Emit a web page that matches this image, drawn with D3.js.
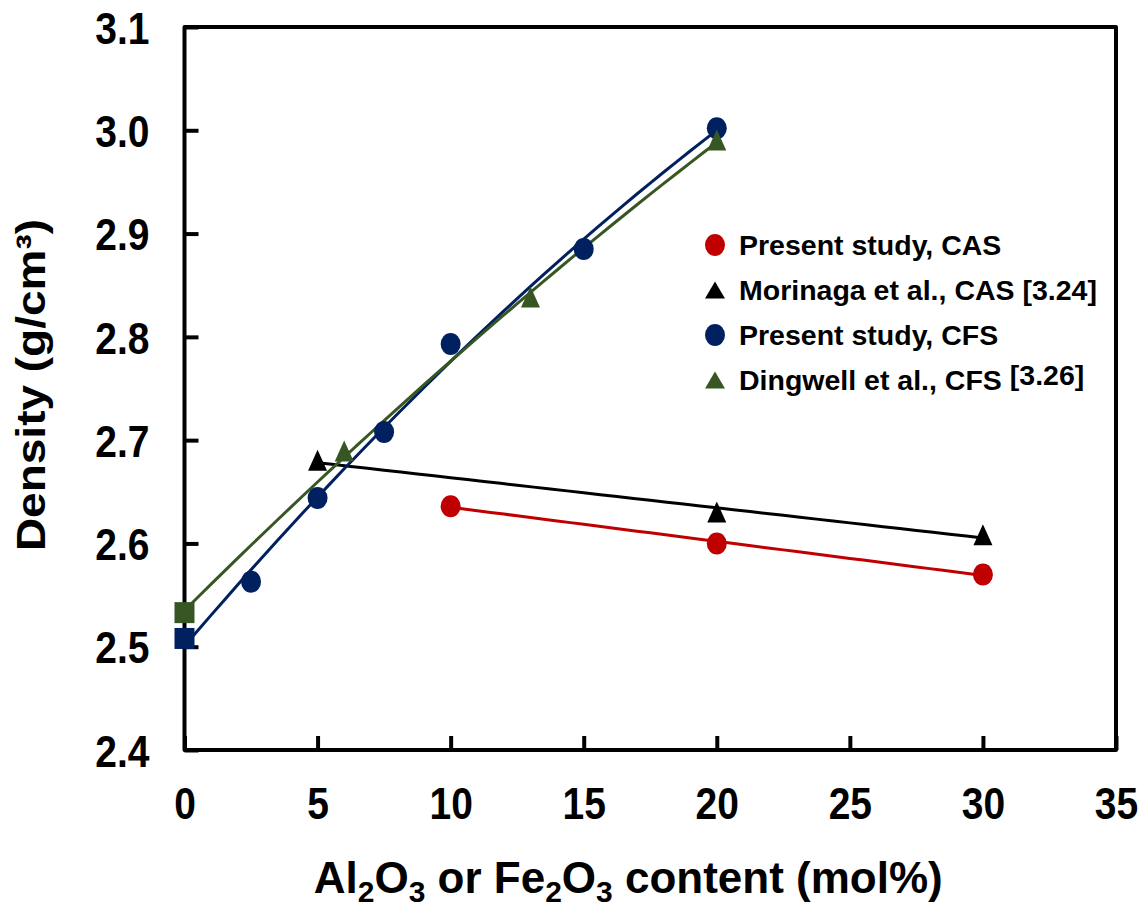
<!DOCTYPE html>
<html>
<head>
<meta charset="utf-8">
<script src="https://cdn.jsdelivr.net/npm/d3@7"></script>
<style>
  body { margin: 0; background: #fff; }
  text { font-family: "Liberation Sans", Arial, sans-serif; font-weight: bold; fill: #000; }
</style>
</head>
<body>
<div id="chart"></div>
<script>
// data
const casX = [10, 20, 30];
const casY = [2.636, 2.600, 2.570];
const morinagaX = [5, 20, 30];
const morinagaY = [2.680, 2.630, 2.608];
const cfsX = [0, 2.5, 5, 7.5, 10, 15, 20];
const cfsY = [2.508, 2.563, 2.644, 2.708, 2.793, 2.885, 3.002];
const dingwellX = [0, 6, 13, 20];
const dingwellY = [2.533, 2.689, 2.838, 2.990];
const xTicks = [0, 5, 10, 15, 20, 25, 30, 35];
const yTicks = [2.4, 2.5, 2.6, 2.7, 2.8, 2.9, 3.0, 3.1];

const series = [
  { name: "Present study, CAS", ref: "", xs: casX, ys: casY, color: "#C00000", shape: "circle", deg: 1 },
  { name: "Morinaga et al., CAS", ref: "[3.24]", xs: morinagaX, ys: morinagaY, color: "#000000", shape: "triangle", deg: 1 },
  { name: "Present study, CFS", ref: "", xs: cfsX, ys: cfsY, color: "#002060", shape: "circle", firstSquare: true, deg: 2 },
  { name: "Dingwell et al., CFS", ref: "[3.26]", xs: dingwellX, ys: dingwellY, color: "#375623", shape: "triangle", firstSquare: true, refUp: true, deg: 2 }
];

const W = 1148, H = 909;
const plotL = 184.5, plotR = 1116, plotT = 27, plotB = 750;
const stretch = 1.15; // text in the source image is drawn slightly tall

const x = d3.scaleLinear().domain([0, 35]).range([plotL, plotR]);
const y = d3.scaleLinear().domain([2.4, 3.1]).range([plotB, plotT]);

const svg = d3.select("#chart").append("svg")
  .attr("width", W).attr("height", H);

// frame
svg.append("rect")
  .attr("x", plotL).attr("y", plotT)
  .attr("width", plotR - plotL).attr("height", plotB - plotT)
  .attr("fill", "none").attr("stroke", "#000")
  .attr("stroke-width", 4).attr("stroke-linejoin", "round");

// axes with inward ticks
const yAxis = svg.append("g")
  .attr("transform", `translate(${plotL},0)`)
  .call(d3.axisLeft(y).tickValues(yTicks).tickFormat(d3.format(".1f"))
    .tickSizeInner(-14).tickSizeOuter(0));
const xAxis = svg.append("g")
  .attr("transform", `translate(0,${plotB})`)
  .call(d3.axisBottom(x).tickValues(xTicks).tickFormat(d3.format("d"))
    .tickSizeInner(-14).tickSizeOuter(0));
[xAxis, yAxis].forEach(g => {
  g.select(".domain").remove();
  g.selectAll(".tick line").attr("stroke", "#000").attr("stroke-width", 4);
  g.selectAll(".tick text").attr("font-size", 39).attr("fill", "#000")
    .style("font-family", '"Liberation Sans", Arial, sans-serif').style("font-weight", "bold")
    .attr("x", 0).attr("y", 0);
});
yAxis.selectAll(".tick text").attr("dy", "0.36em")
  .attr("transform", `translate(-35,0) scale(1,${stretch})`);
xAxis.selectAll(".tick text").attr("dy", "0.71em")
  .attr("transform", `translate(0,37) scale(1,${stretch})`);

// least-squares polynomial trend line
function polyfit(xs, ys, deg) {
  const n = deg + 1;
  const A = d3.range(n).map(r => d3.range(n).map(c => d3.sum(xs, v => Math.pow(v, r + c))));
  const b = d3.range(n).map(r => d3.sum(xs, (v, i) => Math.pow(v, r) * ys[i]));
  for (let i = 0; i < n; i++) {
    for (let k = i + 1; k < n; k++) {
      const f = A[k][i] / A[i][i];
      for (let j = i; j < n; j++) A[k][j] -= f * A[i][j];
      b[k] -= f * b[i];
    }
  }
  const c = new Array(n).fill(0);
  for (let i = n - 1; i >= 0; i--) {
    let s = b[i];
    for (let j = i + 1; j < n; j++) s -= A[i][j] * c[j];
    c[i] = s / A[i][i];
  }
  return v => d3.sum(c, (ci, i) => ci * Math.pow(v, i));
}

const line = d3.line().x(d => x(d[0])).y(d => y(d[1]));

series.forEach(s => {
  const f = polyfit(s.xs, s.ys, s.deg);
  const [x0, x1] = d3.extent(s.xs);
  const pts = d3.range(0, 41).map(k => x0 + (x1 - x0) * k / 40);
  svg.append("path")
    .attr("d", line(pts.map(v => [v, f(v)])))
    .attr("fill", "none").attr("stroke", s.color).attr("stroke-width", 3);
});

function marker(g, shape, color, legend) {
  if (shape === "circle") {
    g.append("ellipse").attr("rx", 10).attr("ry", 11).attr("fill", color);
  } else if (shape === "square") {
    g.append("rect").attr("x", -10).attr("y", -10.5).attr("width", 20).attr("height", 21).attr("fill", color);
  } else if (legend) {
    g.append("path").attr("d", "M0,-8.5 L10,8.5 L-10,8.5 Z").attr("fill", color);
  } else {
    g.append("path").attr("d", "M0,-11 L9.5,10 L-9.5,10 Z").attr("fill", color);
  }
}

series.forEach(s => {
  s.xs.forEach((xv, i) => {
    const g = svg.append("g").attr("transform", `translate(${x(xv)},${y(s.ys[i])})`);
    marker(g, (s.firstSquare && i === 0) ? "square" : s.shape, s.color, false);
  });
});

// legend
const legY = [245, 290, 335, 380];
series.forEach((s, i) => {
  const g = svg.append("g").attr("transform", `translate(715,${legY[i]})`);
  marker(g, s.shape, s.color, true);
  const t = g.append("text").attr("x", 24).attr("y", 0).attr("dy", "0.36em")
    .attr("font-size", 28.5);
  t.append("tspan").text(s.name);
  if (s.ref) {
    t.append("tspan").text(" ");
    t.append("tspan").attr("dy", s.refUp ? -5 : 0).text(s.ref);
  }
});

// axis titles
const xt = svg.append("text")
  .attr("x", (plotL + plotR) / 2 - 22).attr("y", 893)
  .attr("text-anchor", "middle").attr("font-size", 44);
[["Al", 0], ["2", 1], ["O", 0], ["3", 1], [" or Fe", 0], ["2", 1], ["O", 0], ["3", 1], [" content (mol%)", 0]]
  .forEach(([txt, sub], i, arr) => {
    const prevSub = i > 0 ? arr[i - 1][1] : 0;
    const dy = sub && !prevSub ? 9 : (!sub && prevSub ? -9 : 0);
    xt.append("tspan").attr("dy", dy).attr("font-size", sub ? 30 : 44).text(txt);
  });

svg.append("text")
  .attr("transform", `translate(45,385) rotate(-90) scale(${stretch},1)`)
  .attr("text-anchor", "middle").attr("font-size", 40)
  .text("Density (g/cm³)");
</script>
</body>
</html>
